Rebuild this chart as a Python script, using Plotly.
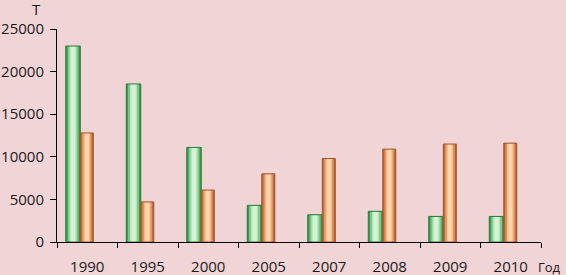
import plotly.graph_objects as go

years = ["1990", "1995", "2000", "2005", "2007", "2008", "2009", "2010"]
green_vals = [23000, 18550, 11100, 4300, 3200, 3600, 3000, 3000]
orange_vals = [12800, 4700, 6100, 8000, 9800, 10900, 11500, 11600]
y_ticks = [0, 5000, 10000, 15000, 20000, 25000]
y_tick_labels = ["0", "5000", "10000", "15000", "20000", "25000"]

W, H = 566, 275
L, R, T, B = 57, 25, 29, 33
pw = W - L - R
ph = H - T - B

fig = go.Figure()

def add_series(vals, offset, width, layers, line_color):
    for frac, col in layers:
        w = width * frac
        fig.add_trace(go.Bar(
            x=years, y=vals, offset=offset + (width - w) / 2, width=w,
            marker=dict(color=col, line=dict(width=0)),
            showlegend=False, hoverinfo="skip"))
    fig.add_trace(go.Bar(
        x=years, y=vals, offset=offset, width=width,
        marker=dict(color="rgba(0,0,0,0)", line=dict(color=line_color, width=1)),
        showlegend=False))

add_series(green_vals, -0.355, 0.24,
           [(1.0, "#3E9B4F"), (0.75, "#7CC689"), (0.5, "#B5E4B8"), (0.3, "#D6F2D6")],
           "#2B7A38")
add_series(orange_vals, -0.115, 0.215,
           [(1.0, "#B8663A"), (0.75, "#E0935E"), (0.5, "#F5BB88"), (0.3, "#FCD6AE")],
           "#A0552E")

font = dict(family="Open Sans, Noto Sans, sans-serif", size=15, color="#1a1a1a")

def px_x(x):
    return (x - L) / pw

def px_y(y):
    return (H - B - y) / ph

fig.update_layout(
    width=W, height=H,
    margin=dict(l=L, r=R, t=T, b=B, autoexpand=False),
    paper_bgcolor="#F1D4D6", plot_bgcolor="#F1D4D6",
    barmode="overlay",
    font=font,
    xaxis=dict(type="category", showline=True, linecolor="black", linewidth=1,
               ticks="outside", ticklen=5, tickcolor="black", tickson="boundaries",
               showgrid=False, tickfont=font, range=[-0.5, 7.5], automargin=False,
               ticklabelstandoff=11),
    yaxis=dict(range=[0, 25000], tickvals=y_ticks, ticktext=y_tick_labels,
               showline=True, linecolor="black",
               linewidth=1, ticks="outside", ticklen=6, tickcolor="black",
               showgrid=False, zeroline=False, tickfont=font, automargin=False,
               ticklabelstandoff=3),
    annotations=[
        dict(text="Т", xref="paper", yref="paper", x=px_x(36), y=px_y(9),
             showarrow=False, font=font, xanchor="center", yanchor="middle"),
        dict(text="Год", xref="paper", yref="paper", x=px_x(549), y=px_y(267),
             showarrow=False, font=dict(family=font["family"], size=13, color="#1a1a1a"),
             xanchor="center", yanchor="middle"),
    ],
)

fig.write_html("out.html",
               config={"displayModeBar": False},
               post_script="document.body.style.margin='0';document.body.style.background='#F1D4D6';")
